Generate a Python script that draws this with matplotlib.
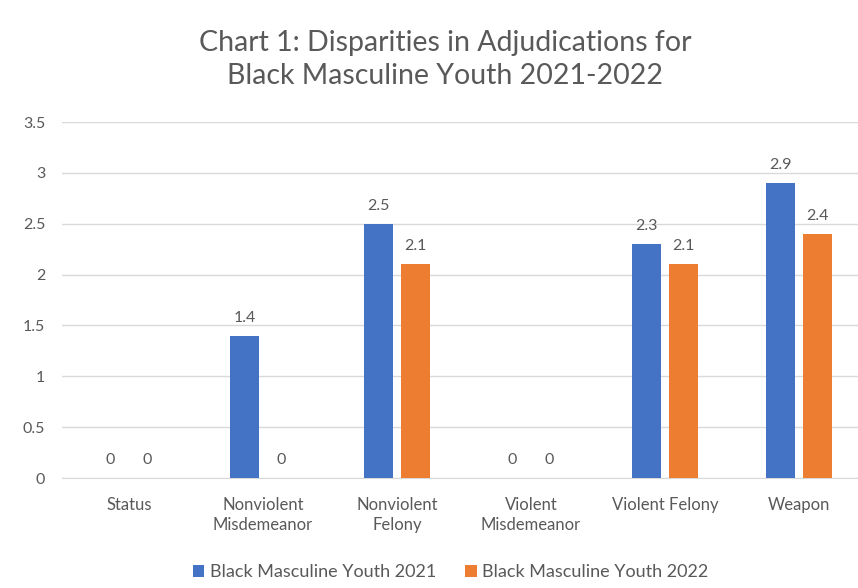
import numpy as np
import matplotlib.pyplot as plt

plt.rcParams['font.family'] = ['Lato', 'DejaVu Sans']

categories = ['Status', 'Nonviolent\nMisdemeanor', 'Nonviolent\nFelony',
              'Violent\nMisdemeanor', 'Violent Felony', 'Weapon']
youth_2021 = [0, 1.4, 2.5, 0, 2.3, 2.9]
youth_2022 = [0, 0, 2.1, 0, 2.1, 2.4]
labels = ['Black Masculine Youth 2021', 'Black Masculine Youth 2022']

blue = '#4472C4'
orange = '#ED7D31'
gray = '#595959'

fig = plt.figure(figsize=(8.58, 5.88), dpi=100)
ax = fig.add_axes([0.0723, 0.187, 0.937, 0.6055])

x = np.arange(len(categories))
w = 0.216
off = 0.138
b1 = ax.bar(x - off, youth_2021, w, color=blue, label=labels[0], zorder=3)
b2 = ax.bar(x + off, youth_2022, w, color=orange, label=labels[1], zorder=3)

for bars in (b1, b2):
    for b in bars:
        ax.annotate(f'{b.get_height():g}', (b.get_x() + b.get_width() / 2, b.get_height()),
                    xytext=(0, 8), textcoords='offset points', ha='center', va='bottom',
                    fontsize=11.5, color=gray)

ax.set_xlim(-0.5, len(categories) - 0.5)
ax.set_ylim(0, 3.5)
ax.set_yticks(np.arange(0, 3.51, 0.5))
ax.set_yticklabels(['0', '0.5', '1', '1.5', '2', '2.5', '3', '3.5'])
ax.set_xticks(x)
ax.set_xticklabels(categories, linespacing=1.3)
ax.tick_params(axis='both', length=0, colors=gray, labelsize=12)
ax.tick_params(axis='y', labelsize=11.5, pad=12)
ax.tick_params(axis='x', pad=14)
ax.grid(axis='y', color='#D9D9D9', linewidth=1, zorder=0)
for s in ['top', 'right', 'left']:
    ax.spines[s].set_visible(False)
ax.spines['bottom'].set_color('#D9D9D9')

fig.text(0.519, 0.899, 'Chart 1: Disparities in Adjudications for\nBlack Masculine Youth 2021-2022',
         ha='center', va='center', fontsize=20.5, color=gray, linespacing=1.3)

fig.legend(handles=[b1, b2], labels=labels, loc='center', bbox_to_anchor=(0.525, 0.027),
           ncol=2, frameon=False, fontsize=13, labelcolor=gray, handlelength=0.65,
           handleheight=0.65, handletextpad=0.3, columnspacing=1.6)

fig.savefig('out.png', dpi=100)
